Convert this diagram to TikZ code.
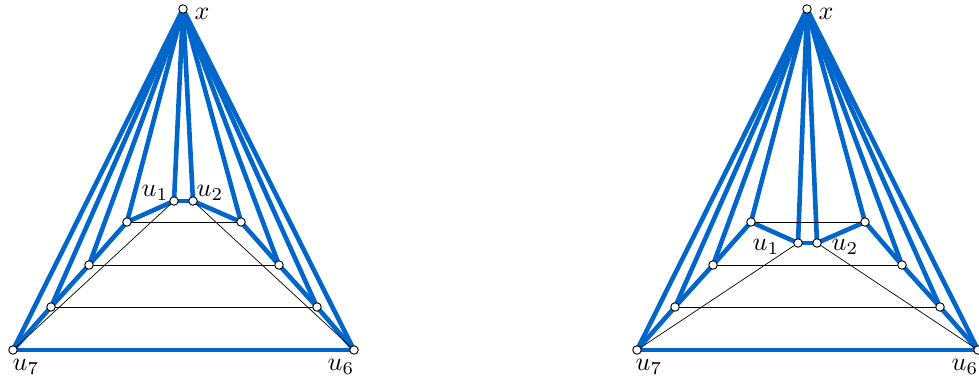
\documentclass[tikz,border=0pt]{standalone}
\usepackage{graphicx}
\pgfdeclarelayer{background}
\pgfsetlayers{background,main}
\definecolor{eblue}{RGB}{0,102,204}
\newcommand{\biglbl}[1]{\scalebox{2.6}{$#1$}}
\begin{document}
\begin{tikzpicture}[x=1pt,y=-1pt,
  vtx/.style={circle,draw=black,fill=white,line width=0.9pt,minimum size=8.5pt,inner sep=0pt},
  lbl/.style={inner sep=0pt},
  thick blue/.style={draw=eblue,line width=4.6pt,line cap=round,line join=round},
  thin black/.style={draw=black,line width=0.7pt}]
\useasboundingbox (0,0) rectangle (979,377);
% left figure
\node[vtx] (L-x)  at (183,9) {};
\node[vtx] (L-u7) at (13,350) {};
\node[vtx] (L-u6) at (354,350) {};
\node[vtx] (L-u1) at (174,201) {};
\node[vtx] (L-u2) at (193,201) {};
\node[vtx] (L-a1) at (127,222) {};
\node[vtx] (L-b1) at (241,222) {};
\node[vtx] (L-a2) at (89,265) {};
\node[vtx] (L-b2) at (279,265) {};
\node[vtx] (L-a3) at (51,307) {};
\node[vtx] (L-b3) at (317,307) {};
% right figure
\node[vtx] (R-x)  at (807,9) {};
\node[vtx] (R-u7) at (637,350) {};
\node[vtx] (R-u6) at (978,350) {};
\node[vtx] (R-u1) at (798,243) {};
\node[vtx] (R-u2) at (817,243) {};
\node[vtx] (R-a1) at (751,222) {};
\node[vtx] (R-b1) at (865,222) {};
\node[vtx] (R-a2) at (713,265) {};
\node[vtx] (R-b2) at (902,265) {};
\node[vtx] (R-a3) at (675,307) {};
\node[vtx] (R-b3) at (940,307) {};
\begin{pgfonlayer}{background}
\foreach \p in {L,R}{
  \foreach \s/\t in {x/u7,x/u6,u7/u6,x/a3,x/b3,x/a2,x/b2,x/a1,x/b1,x/u1,x/u2,u1/u2,u1/a1,u2/b1,a1/a2,a2/a3,a3/u7,b1/b2,b2/b3,b3/u6}{
    \draw[thick blue] (\p-\s.center) -- (\p-\t.center);
  }
  \foreach \s/\t in {a1/b1,a2/b2,a3/b3,u1/u7,u2/u6}{
    \draw[thin black] (\p-\s.center) -- (\p-\t.center);
  }
}
\end{pgfonlayer}
% labels
\node[lbl] (L-lx)  at ([shift={(19,5)}]L-x) {\biglbl{x}};
\node[lbl] (L-l1)  at ([shift={(-19,-8)}]L-u1) {\biglbl{u_1}};
\node[lbl] (L-l2)  at ([shift={(17,-8)}]L-u2) {\biglbl{u_2}};
\node[lbl] (L-l7)  at ([shift={(13,17)}]L-u7) {\biglbl{u_7}};
\node[lbl] (L-l6)  at ([shift={(-13,17)}]L-u6) {\biglbl{u_6}};
\node[lbl] (R-lx)  at ([shift={(19,5)}]R-x) {\biglbl{x}};
\node[lbl] (R-l1)  at ([shift={(-32,4)}]R-u1) {\biglbl{u_1}};
\node[lbl] (R-l2)  at ([shift={(28,4)}]R-u2) {\biglbl{u_2}};
\node[lbl] (R-l7)  at ([shift={(12,17)}]R-u7) {\biglbl{u_7}};
\node[lbl] (R-l6)  at ([shift={(-13,17)}]R-u6) {\biglbl{u_6}};
\end{tikzpicture}
\end{document}
